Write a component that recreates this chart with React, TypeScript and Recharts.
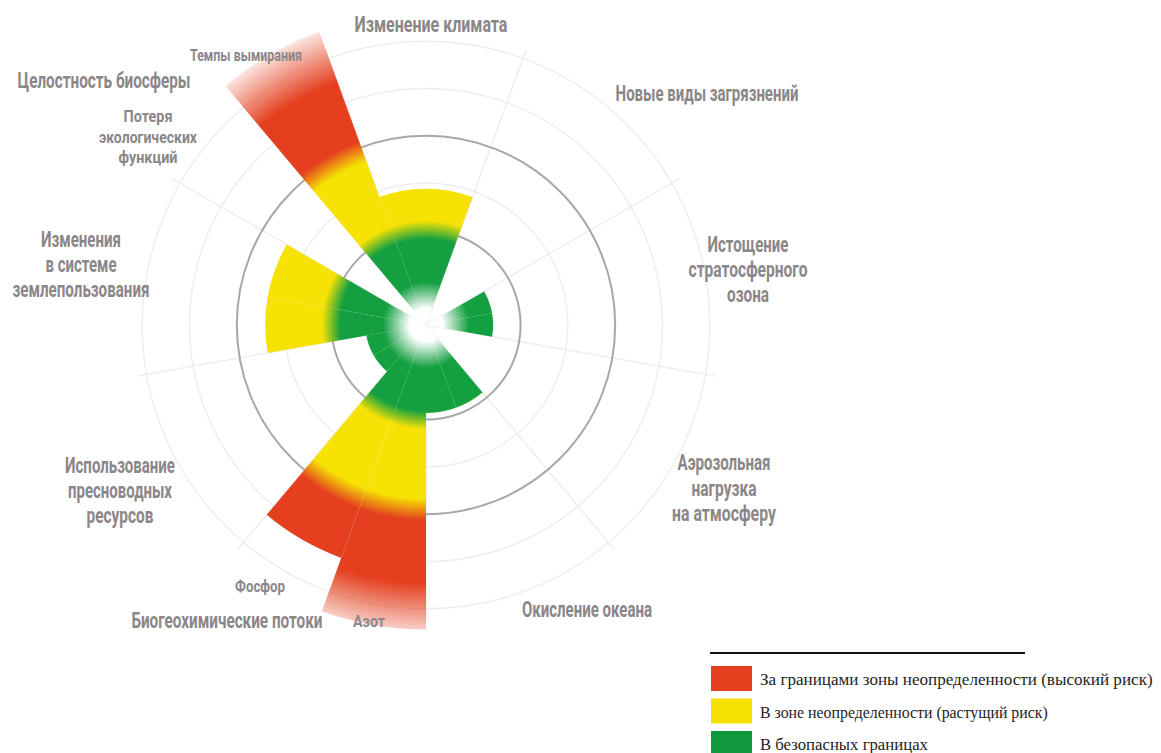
import React, { useLayoutEffect, useRef, useState } from 'react';
import { RadialBarChart, RadialBar, PolarAngleAxis, PolarRadiusAxis, PolarGrid } from 'recharts';

// 18 half-sectors of 20 degrees, clockwise from -20deg (compass)
const subSectors = [
  'climate-1', 'climate-2', 'novel-1', 'novel-2', 'ozone-1', 'ozone-2',
  'aerosol-1', 'aerosol-2', 'ocean-1', 'ocean-2', 'nitrogen', 'phosphorus',
  'freshwater-1', 'freshwater-2', 'land-1', 'land-2', 'functional', 'extinction',
];
// level of pressure, 1 = safe boundary, 2 = upper end of uncertainty zone
const pressure = [
  1.44, 1.44, null, null, 0.71, 0.71,
  null, null, 0.93, 0.93, 3.22, 2.62,
  0.64, 0.64, 1.7, 1.7, null, 3.3,
];

const boundaryLabels = [
  ['Изменение климата'],
  ['Новые виды загрязнений'],
  ['Истощение', 'стратосферного', 'озона'],
  ['Аэрозольная', 'нагрузка', 'на атмосферу'],
  ['Окисление океана'],
  ['Биогеохимические потоки'],
  ['Использование', 'пресноводных', 'ресурсов'],
  ['Изменения', 'в системе', 'землепользования'],
  ['Целостность биосферы'],
];
const subLabels = [
  ['Темпы вымирания'],
  ['Потеря', 'экологических', 'функций'],
  ['Азот'],
  ['Фосфор'],
];

const legendItems = [
  'За границами зоны неопределенности (высокий риск)',
  'В зоне неопределенности (растущий риск)',
  'В безопасных границах',
];

const boundaryRings = [1, 2];
const helperRings = [1.5, 2.5, 3];

const data = subSectors.map((id, i) => ({ id, value: pressure[i] }));

// layout
const W = 1161;
const H = 753;
const CX = 426;
const CY = 325;
const UNIT = 94.6;
const DOMAIN_MAX = 3.1;
const R_OUT = DOMAIN_MAX * UNIT;
const GRAD_R = 331;
// compass boundaries between the 9 sectors -> recharts angles
const spokeAngles = [20, 60, 100, 140, 180, 220, 260, 300, 340].map((c) => 90 - c);

const GREEN = '#14a041';
const YELLOW = '#f6e204';
const RED = '#e4401f';
const LABEL_FONT = "'Liberation Sans Narrow', 'Roboto', 'DejaVu Sans', sans-serif";

const boundaryLayout = [
  { x: 431, y: 32, size: 22, gap: 25, widths: [153] },
  { x: 707, y: 101, size: 22, gap: 25, widths: [183] },
  { x: 748, y: 252, size: 22, gap: 25, widths: [81, 119, 42] },
  { x: 724, y: 470, size: 22, gap: 25.5, widths: [93, 65, 104] },
  { x: 587, y: 617, size: 22, gap: 25, widths: [130] },
  { x: 227, y: 628, size: 22, gap: 25, widths: [191] },
  { x: 120, y: 473, size: 22, gap: 25, widths: [110, 104, 67] },
  { x: 81, y: 247, size: 22, gap: 25, widths: [80, 71, 137] },
  { x: 104, y: 88, size: 22, gap: 25, widths: [173] },
];
const subLayout = [
  { x: 246, y: 61, size: 17, gap: 20, widths: [112] },
  { x: 148, y: 122, size: 17, gap: 20.5, widths: [49, 98, 59] },
  { x: 369, y: 627, size: 16, gap: 20, widths: [32] },
  { x: 260, y: 592, size: 16, gap: 20, widths: [50] },
];
const legendColors = [RED, YELLOW, '#10993c'];

// text squeezed horizontally to the width it has in the print
const FitText = ({ x, y, width, size, anchor, font, weight, fill, children }: any) => {
  const ref = useRef<SVGTextElement>(null);
  const [k, setK] = useState(1);
  useLayoutEffect(() => {
    const el = ref.current;
    if (!el) return;
    const natural = el.getComputedTextLength();
    if (natural > 0) setK(width / natural);
  }, [width, children]);
  return (
    <text
      ref={ref}
      transform={`translate(${x} ${y}) scale(${k} 1)`}
      fontSize={size}
      fontFamily={font}
      fontWeight={weight}
      fill={fill}
      textAnchor={anchor}
    >
      {children}
    </text>
  );
};

const Labels = ({ lines, layout }: { lines: string[][]; layout: typeof boundaryLayout }) => (
  <>
    {lines.map((group, i) =>
      group.map((line, j) => (
        <FitText
          key={`${i}-${j}`}
          x={layout[i].x}
          y={layout[i].y + j * layout[i].gap}
          width={layout[i].widths[j]}
          size={layout[i].size}
          anchor="middle"
          font={LABEL_FONT}
          weight={700}
          fill="#8b8688"
        >
          {line}
        </FitText>
      ))
    )}
  </>
);

export default function App() {
  return (
    <div style={{ position: 'absolute', left: 0, top: 0, width: W, height: H, background: '#fff', overflow: 'hidden' }}>
      <RadialBarChart
        width={W}
        height={H}
        data={data}
        layout="centric"
        cx={CX}
        cy={CY}
        innerRadius={0}
        outerRadius={R_OUT}
        startAngle={90}
        endAngle={-270}
        barCategoryGap={0}
        barGap={0}
        margin={{ top: 0, right: 0, bottom: 0, left: 0 }}
      >
        <defs>
          <radialGradient id="riskFill" gradientUnits="userSpaceOnUse" cx={CX} cy={CY} r={GRAD_R} fx={CX} fy={CY}>
            <stop offset={0} stopColor="#ffffff" />
            <stop offset={0.05} stopColor="#ffffff" />
            <stop offset={0.13} stopColor={GREEN} />
            <stop offset={0.26} stopColor={GREEN} />
            <stop offset={0.315} stopColor={YELLOW} />
            <stop offset={0.525} stopColor={YELLOW} />
            <stop offset={0.59} stopColor={RED} />
            <stop offset={0.78} stopColor={RED} stopOpacity={1} />
            <stop offset={0.96} stopColor={RED} stopOpacity={0.05} />
          </radialGradient>
        </defs>
        <PolarGrid
          gridType="circle"
          polarRadius={helperRings.map((v) => v * UNIT)}
          polarAngles={spokeAngles}
          stroke="#eeeeee"
          strokeWidth={1.5}
        />
        <PolarGrid
          gridType="circle"
          polarRadius={boundaryRings.map((v) => v * UNIT)}
          polarAngles={[]}
          radialLines={false}
          stroke="#a8a8a8"
          strokeWidth={2}
        />
        <PolarAngleAxis type="category" dataKey="id" tick={false} axisLine={false} tickLine={false} />
        <PolarRadiusAxis
          type="number"
          domain={[0, DOMAIN_MAX]}
          allowDataOverflow
          tick={false}
          axisLine={false}
          tickLine={false}
        />
        <RadialBar dataKey="value" fill="url(#riskFill)" isAnimationActive={false} />
      </RadialBarChart>
      <svg width={W} height={H} style={{ position: 'absolute', left: 0, top: 0, pointerEvents: 'none' }}>
        <Labels lines={boundaryLabels} layout={boundaryLayout} />
        <Labels lines={subLabels} layout={subLayout} />
        <line x1={710} y1={653} x2={1025} y2={653} stroke="#111" strokeWidth={2} />
        {legendItems.map((item, i) => (
          <g key={item}>
            <rect x={711} y={666 + i * 32.5} width={41} height={25} fill={legendColors[i]} />
            <FitText
              x={760}
              y={685 + i * 32.5}
              width={[393, 288, 168][i]}
              size={17}
              anchor="start"
              font="'Liberation Serif', 'DejaVu Serif', serif"
              weight={400}
              fill="#1e1e1e"
            >
              {item}
            </FitText>
          </g>
        ))}
      </svg>
    </div>
  );
}
